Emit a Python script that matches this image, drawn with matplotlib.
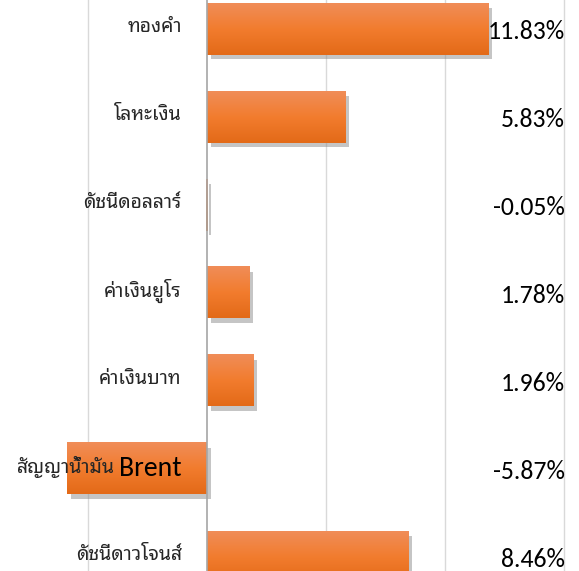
import numpy as np
import matplotlib
matplotlib.use('Agg')
import matplotlib.pyplot as plt
import matplotlib.patheffects as pe
from matplotlib.colors import LinearSegmentedColormap
from matplotlib.transforms import offset_copy

categories = ['ทองคำ', 'โลหะเงิน', 'ดัชนีดอลลาร์', 'ค่าเงินยูโร', 'ค่าเงินบาท',
              'สัญญาน้ำมัน Brent', 'ดัชนีดาวโจนส์']
values = [11.83, 5.83, -0.05, 1.78, 1.96, -5.87, 8.46]
value_labels = ['11.83%', '5.83%', '-0.05%', '1.78%', '1.96%', '-5.87%', '8.46%']
grid_ticks = [-5, 5, 10, 15]

thai_font = ['Noto Sans Thai Looped', 'Carlito', 'DejaVu Sans']
latin_font = ['Carlito', 'DejaVu Sans']

fig = plt.figure(figsize=(5.79, 5.71), dpi=100)
ax = fig.add_axes([0, 0, 1, 1])

bar_h = 0.58
orange = LinearSegmentedColormap.from_list('org', ['#f08d58', '#f27c2e', '#e36a18'])
grad = np.linspace(0, 1, 64).reshape(-1, 1)

y = np.arange(len(categories))
bars = ax.barh(y, values, height=bar_h, color='#f07a2a', zorder=3)
for b, v, yi in zip(bars, values, y):
    b.set_path_effects([pe.SimplePatchShadow(offset=(2.5, -3.5), shadow_rgbFace='#8c8c8c', alpha=0.5),
                        pe.Normal()])
    ax.imshow(grad, cmap=orange, aspect='auto', zorder=4,
              extent=[min(0, v), max(0, v), yi + bar_h / 2, yi - bar_h / 2])

for g in grid_ticks:
    ax.axvline(g, color='#d9d9d9', lw=1, zorder=1)
ax.axvline(0, color='#a6a6a6', lw=1.2, zorder=5)

ax.set_xlim(-8.70, 15.63)
ax.set_ylim(6.16, -0.33)
ax.axis('off')

trans = ax.get_yaxis_transform()
renderer = fig.canvas.get_renderer()
for yi, name in zip(y, categories):
    thai = name
    if ' ' in name:
        # latin part is drawn bigger, like the reference
        thai, latin = name.rsplit(' ', 1)
        t = ax.text(0.314, yi, latin, transform=trans, ha='right', va='center',
                    fontsize=20, color='black', zorder=6, family=latin_font)
        w = t.get_window_extent(renderer).width * 72 / fig.dpi
        tr = offset_copy(trans, fig=fig, x=-(w + 3), y=0, units='points')
        ax.text(0.314, yi - 0.02, thai, transform=tr, ha='right', va='center',
                fontsize=14, color='#262626', zorder=6, family=thai_font)
    else:
        ax.text(0.314, yi - 0.02, thai, transform=trans, ha='right', va='center',
                fontsize=14, color='#262626', zorder=6, family=thai_font)

for yi, lab in zip(y, value_labels):
    ax.text(0.976, yi + 0.03, lab, transform=trans, ha='right', va='center',
            fontsize=18.5, color='black', zorder=6, family=latin_font)

fig.savefig('out.png', dpi=100)
